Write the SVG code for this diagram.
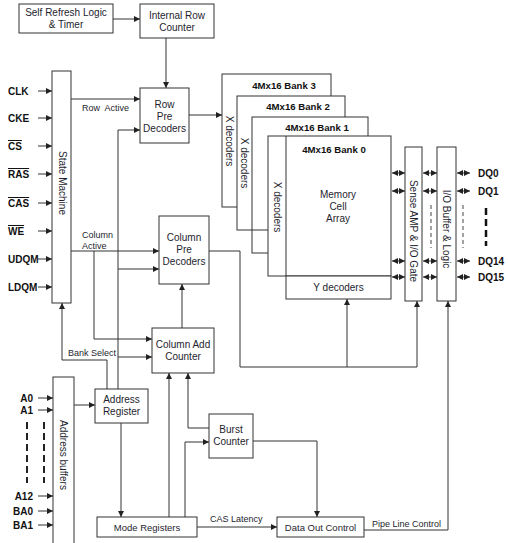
<svg xmlns="http://www.w3.org/2000/svg" width="508" height="543" viewBox="0 0 508 543">
<defs>
<marker id="ah" markerUnits="userSpaceOnUse" markerWidth="7" markerHeight="7" refX="6" refY="3" orient="auto-start-reverse"><path d="M0,0 L6,3 L0,6 z" fill="#222"/></marker>
<style>
.b{fill:#fff;stroke:#333;stroke-width:1}
.l{fill:none;stroke:#333;stroke-width:1}
.a{fill:none;stroke:#333;stroke-width:1;marker-end:url(#ah)}
.d{fill:none;stroke:#333;stroke-width:1;marker-end:url(#ah);marker-start:url(#ah)}
text{font-family:"Liberation Sans",Arial,sans-serif;fill:#1e1e2e}
.t{font-size:10px;text-anchor:middle}
.s{font-size:9px}
.p{font-size:10px;font-weight:bold;fill:#111}
.bk{font-size:9.6px;font-weight:bold;text-anchor:middle;fill:#111}
.ov{text-decoration:overline}
</style>
</defs>
<rect width="508" height="543" fill="#fff"/>

<g id="connectors">
<line class="a" x1="113" y1="19" x2="140" y2="19"/>
<line class="a" x1="166" y1="38" x2="166" y2="88"/>
<line class="a" x1="71" y1="99" x2="140" y2="99"/>
<polyline class="a" points="118,389 118,130 140,130"/>
<line class="a" x1="118" y1="269" x2="159" y2="269"/>
<line class="a" x1="118" y1="357" x2="152" y2="357"/>
<line class="a" x1="189" y1="115" x2="222" y2="115"/>
<line class="a" x1="71" y1="251" x2="159" y2="251"/>
<polyline class="a" points="94,251 94,339 152,339"/>
<polyline class="a" points="107,389 107,360 62,360 62,303"/>
<line class="a" x1="182" y1="328" x2="182" y2="284"/>
<polyline class="l" points="209,251 240,251 240,367 417,367"/>
<line class="a" x1="347" y1="367" x2="347" y2="299"/>
<line class="a" x1="417" y1="367" x2="417" y2="301"/>
<line class="a" x1="74" y1="405" x2="95" y2="405"/>
<line class="a" x1="121" y1="423" x2="121" y2="517"/>
<line class="a" x1="169" y1="517" x2="169" y2="373"/>
<polyline class="a" points="185,517 185,442 209,442"/>
<polyline class="a" points="209,428 188,428 188,373"/>
<polyline class="a" points="253,441 317,441 317,517"/>
<line class="a" x1="197" y1="527" x2="277" y2="527"/>
<polyline class="a" points="364,530 448,530 448,301"/>
<!-- pin inputs -->
<line class="a" x1="38" y1="91" x2="52" y2="91"/>
<line class="a" x1="38" y1="118" x2="52" y2="118"/>
<line class="a" x1="38" y1="146" x2="52" y2="146"/>
<line class="a" x1="38" y1="174" x2="52" y2="174"/>
<line class="a" x1="38" y1="203" x2="52" y2="203"/>
<line class="a" x1="38" y1="231" x2="52" y2="231"/>
<line class="a" x1="38" y1="259" x2="52" y2="259"/>
<line class="a" x1="38" y1="287" x2="52" y2="287"/>
<line class="a" x1="38" y1="398" x2="53" y2="398"/>
<line class="a" x1="38" y1="410" x2="53" y2="410"/>
<line class="a" x1="38" y1="496" x2="53" y2="496"/>
<line class="a" x1="38" y1="511" x2="53" y2="511"/>
<line class="a" x1="38" y1="525" x2="53" y2="525"/>
<line x1="27" y1="422" x2="27" y2="483" stroke="#222" stroke-width="2" stroke-dasharray="7,4"/>
<line x1="44" y1="422" x2="44" y2="483" stroke="#222" stroke-width="2" stroke-dasharray="7,4"/>
<!-- bidirectional data -->
<line class="d" x1="392" y1="173" x2="405" y2="173"/>
<line class="d" x1="392" y1="191" x2="405" y2="191"/>
<line class="d" x1="392" y1="261" x2="405" y2="261"/>
<line class="d" x1="392" y1="277" x2="405" y2="277"/>
<line class="d" x1="423" y1="173" x2="437" y2="173"/>
<line class="d" x1="423" y1="191" x2="437" y2="191"/>
<line class="d" x1="423" y1="261" x2="437" y2="261"/>
<line class="d" x1="423" y1="277" x2="437" y2="277"/>
<line class="d" x1="457" y1="173" x2="470" y2="173"/>
<line class="d" x1="457" y1="191" x2="470" y2="191"/>
<line class="d" x1="457" y1="261" x2="470" y2="261"/>
<line class="d" x1="457" y1="277" x2="470" y2="277"/>
<line x1="431" y1="205" x2="431" y2="248" stroke="#444" stroke-width="1" stroke-dasharray="4,3"/>
<line x1="463" y1="205" x2="463" y2="248" stroke="#444" stroke-width="1" stroke-dasharray="4,3"/>
<line x1="486" y1="208" x2="486" y2="246" stroke="#111" stroke-width="2.5" stroke-dasharray="7,4"/>
</g>

<g id="labels">
<text class="s" x="82" y="111" xml:space="preserve">Row  Active</text>
<text class="s" x="82" y="238">Column</text>
<text class="s" x="82" y="249">Active</text>
<text class="s" x="68" y="356">Bank Select</text>
<text class="s" x="210" y="522">CAS Latency</text>
<text class="s" x="372" y="527">Pipe Line Control</text>
</g>

<g id="pins">
<text class="p" x="8" y="95">CLK</text>
<text class="p" x="8" y="122">CKE</text>
<text class="p ov" x="8" y="150">CS</text>
<text class="p ov" x="8" y="178">RAS</text>
<text class="p ov" x="8" y="207">CAS</text>
<text class="p ov" x="8" y="235">WE</text>
<text class="p" x="8" y="263">UDQM</text>
<text class="p" x="8" y="291">LDQM</text>
<text class="p" x="33" y="402" text-anchor="end">A0</text>
<text class="p" x="33" y="414" text-anchor="end">A1</text>
<text class="p" x="33" y="500" text-anchor="end">A12</text>
<text class="p" x="33" y="515" text-anchor="end">BA0</text>
<text class="p" x="33" y="529" text-anchor="end">BA1</text>
<text class="p" x="478" y="177">DQ0</text>
<text class="p" x="478" y="195">DQ1</text>
<text class="p" x="478" y="265">DQ14</text>
<text class="p" x="478" y="281">DQ15</text>
</g>

<g id="self-refresh">
<rect class="b" x="19" y="4" width="94" height="29"/>
<text class="t" x="66" y="16">Self Refresh Logic</text>
<text class="t" x="66" y="28">&amp; Timer</text>
</g>
<g id="internal-row-counter">
<rect class="b" x="140" y="4" width="74" height="34"/>
<text class="t" x="177" y="19">Internal Row</text>
<text class="t" x="177" y="31">Counter</text>
</g>
<g id="state-machine">
<rect class="b" x="52" y="71" width="19" height="232"/>
<text class="t" transform="translate(62,183) rotate(90)" dy="3.5">State Machine</text>
</g>
<g id="row-pre-decoders">
<rect class="b" x="140" y="88" width="49" height="55"/>
<text class="t" x="164.5" y="108">Row</text>
<text class="t" x="164.5" y="120">Pre</text>
<text class="t" x="164.5" y="132">Decoders</text>
</g>
<g id="column-pre-decoders">
<rect class="b" x="159" y="216" width="50" height="68"/>
<text class="t" x="184" y="241">Column</text>
<text class="t" x="184" y="253">Pre</text>
<text class="t" x="184" y="265">Decoders</text>
</g>
<g id="column-add-counter">
<rect class="b" x="152" y="328" width="62" height="45"/>
<text class="t" x="183" y="348">Column Add</text>
<text class="t" x="183" y="360">Counter</text>
</g>
<g id="address-buffers">
<rect class="b" x="53" y="377" width="21" height="170"/>
<text class="t" transform="translate(63,455) rotate(90)" dy="3.5">Address buffers</text>
</g>
<g id="address-register">
<rect class="b" x="95" y="389" width="53" height="34"/>
<text class="t" x="121.5" y="403">Address</text>
<text class="t" x="121.5" y="415">Register</text>
</g>
<g id="burst-counter">
<rect class="b" x="209" y="414" width="44" height="44"/>
<text class="t" x="231" y="433">Burst</text>
<text class="t" x="231" y="445">Counter</text>
</g>
<g id="mode-registers">
<rect class="b" x="97" y="517" width="100" height="20"/>
<text class="t" x="147" y="531" style="font-size:9.5px">Mode Registers</text>
</g>
<g id="data-out-control">
<rect class="b" x="277" y="517" width="87" height="20"/>
<text class="t" x="320.5" y="531" style="font-size:9.5px">Data Out Control</text>
</g>

<g id="bank3">
<rect class="b" x="222" y="74" width="109" height="133"/>
<text class="bk" x="284" y="89">4Mx16 Bank 3</text>
<text class="t" transform="translate(229,141) rotate(90)" dy="3.5">X decoders</text>
</g>
<g id="bank2">
<rect class="b" x="237" y="96" width="108" height="134"/>
<text class="bk" x="298" y="110">4Mx16 Bank 2</text>
<text class="t" transform="translate(244,163) rotate(90)" dy="3.5">X decoders</text>
</g>
<g id="bank1">
<rect class="b" x="252" y="117" width="116" height="136"/>
<line class="l" x1="252" y1="230" x2="268" y2="230"/>
<text class="bk" x="317" y="131">4Mx16 Bank 1</text>
</g>
<g id="bank0">
<rect class="b" x="268" y="136" width="123" height="140"/>
<line class="l" x1="286" y1="136" x2="286" y2="276"/>
<text class="bk" x="334" y="153">4Mx16 Bank 0</text>
<text class="t" transform="translate(277,207) rotate(90)" dy="3.5">X decoders</text>
<text class="t" x="338" y="198">Memory</text>
<text class="t" x="338" y="210">Cell</text>
<text class="t" x="338" y="222">Array</text>
</g>
<g id="y-decoders">
<rect class="b" x="286" y="276" width="105" height="23"/>
<text class="t" x="338.5" y="291">Y decoders</text>
</g>
<g id="sense-amp">
<rect class="b" x="405" y="147" width="17" height="154"/>
<text class="t" transform="translate(413.5,231) rotate(90)" dy="3.5">Sense AMP &amp; I/O Gate</text>
</g>
<g id="io-buffer">
<rect class="b" x="437" y="147" width="19" height="154"/>
<text class="t" transform="translate(446.5,229) rotate(90)" dy="3.5">I/O Buffer &amp; Logic</text>
</g>
</svg>
